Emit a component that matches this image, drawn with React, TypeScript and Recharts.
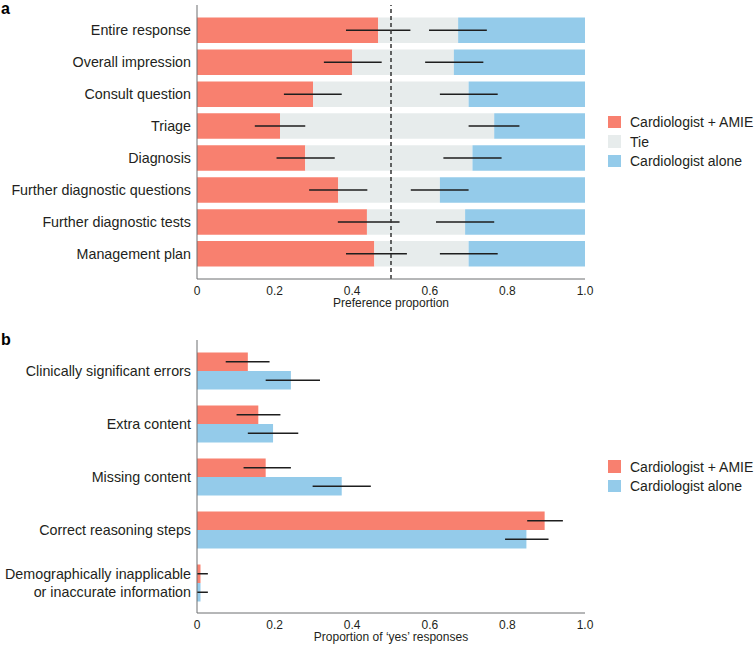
import React from 'react';
import { BarChart, Bar, XAxis, YAxis, ErrorBar, ReferenceLine } from 'recharts';

const FONT = '"Liberation Sans", Arial, sans-serif';
const TEXT = '#231f20';
const AXIS = '#6d6e71';

const COLOR_AMIE = '#F8806F';
const COLOR_TIE = '#E7ECEC';
const COLOR_ALONE = '#94CBEA';

// Panel a: preference between the two responses, per section
const preferenceCategories = [
  'Entire response',
  'Overall impression',
  'Consult question',
  'Triage',
  'Diagnosis',
  'Further diagnostic questions',
  'Further diagnostic tests',
  'Management plan',
];
const amieShare = [0.467, 0.400, 0.299, 0.214, 0.279, 0.364, 0.438, 0.457];
const amieLow = [0.384, 0.327, 0.224, 0.149, 0.205, 0.289, 0.363, 0.384];
const amieHigh = [0.550, 0.476, 0.373, 0.279, 0.355, 0.439, 0.522, 0.541];
const aloneShare = [0.327, 0.338, 0.300, 0.234, 0.290, 0.374, 0.309, 0.300];
const aloneLow = [0.253, 0.262, 0.225, 0.169, 0.215, 0.300, 0.234, 0.225];
const aloneHigh = [0.402, 0.412, 0.374, 0.300, 0.365, 0.449, 0.384, 0.374];

// Panel b: proportion of 'yes' answers per question
const yesCategories = [
  'Clinically significant errors',
  'Extra content',
  'Missing content',
  'Correct reasoning steps',
  'Demographically inapplicable\nor inaccurate information',
];
const amieYes = [0.131, 0.158, 0.177, 0.896, 0.009];
const amieYesLow = [0.074, 0.102, 0.120, 0.851, 0];
const amieYesHigh = [0.187, 0.215, 0.242, 0.943, 0.028];
const aloneYes = [0.242, 0.196, 0.373, 0.849, 0.009];
const aloneYesLow = [0.177, 0.131, 0.298, 0.794, 0];
const aloneYesHigh = [0.317, 0.261, 0.448, 0.906, 0.028];

const xTicks = [0, 0.2, 0.4, 0.6, 0.8, 1];

const preferenceData = preferenceCategories.map((name, i) => ({
  name,
  amie: amieShare[i],
  tie: +(1 - amieShare[i] - aloneShare[i]).toFixed(4),
  alone: aloneShare[i],
  // error bar on the red segment sits at its end
  amieErr: [amieShare[i] - amieLow[i], amieHigh[i] - amieShare[i]],
  // blue interval is drawn at the red+tie boundary, i.e. 1 - alone
  aloneErr: [aloneHigh[i] - aloneShare[i], aloneShare[i] - aloneLow[i]],
}));

const yesData = yesCategories.map((name, i) => ({
  name,
  amie: amieYes[i],
  alone: aloneYes[i],
  amieErr: [amieYes[i] - amieYesLow[i], amieYesHigh[i] - amieYes[i]],
  aloneErr: [aloneYes[i] - aloneYesLow[i], aloneYesHigh[i] - aloneYes[i]],
}));

const formatTick = (v: number) => (v === 0 ? '0' : v.toFixed(1));

const CategoryTick = ({ x, y, payload }: any) => {
  const lines = String(payload.value).split('\n');
  const lh = 17.6;
  return (
    <text x={x} y={y} textAnchor="end" fontSize={14.3} fill={TEXT} fontFamily={FONT}>
      {lines.map((line, i) => (
        <tspan key={i} x={x} dy={i === 0 ? -((lines.length - 1) * lh) / 2 + 5 : lh}>
          {line}
        </tspan>
      ))}
    </text>
  );
};

const LegendBox = ({ items, top }: { items: { label: string; color: string }[]; top: number }) => (
  <div style={{ position: 'absolute', left: 608, top, fontFamily: FONT, fontSize: 14, color: TEXT }}>
    {items.map((it) => (
      <div key={it.label} style={{ display: 'flex', alignItems: 'center', height: 19.4, whiteSpace: 'nowrap' }}>
        <span style={{ display: 'inline-block', width: 12.5, height: 12.5, background: it.color, marginRight: 9.5 }} />
        {it.label}
      </div>
    ))}
  </div>
);

const errProps = { direction: 'x' as const, width: 0, stroke: '#1e1e1e', strokeWidth: 1.5 };

const xAxisCommon = {
  type: 'number' as const,
  domain: [0, 1],
  ticks: xTicks,
  interval: 0,
  tickFormatter: formatTick,
  tickLine: false,
  axisLine: { stroke: AXIS },
  tick: { fontSize: 12, fill: TEXT },
};

const panelLetter = { position: 'absolute' as const, left: 1, fontSize: 16, lineHeight: '18px', fontWeight: 700, color: '#000' };

export default function App() {
  return (
    <div style={{ position: 'absolute', left: 0, top: 0, width: 754, height: 650, background: '#fff', fontFamily: FONT }}>
      <div style={{ ...panelLetter, top: 0 }}>a</div>
      <div style={{ ...panelLetter, top: 331 }}>b</div>

      <div style={{ position: 'absolute', left: 0, top: 0 }}>
        <BarChart
          width={754}
          height={315}
          data={preferenceData}
          layout="vertical"
          margin={{ top: 5, right: 169, bottom: 0, left: 0 }}
          barSize={25.5}
          style={{ fontFamily: FONT }}
        >
          <XAxis
            {...xAxisCommon}
            height={36}
            tickSize={5}
            tickMargin={2}
            label={{ value: 'Preference proportion', position: 'insideBottom', offset: 8, fontSize: 12, fill: TEXT }}
          />
          <YAxis
            type="category"
            dataKey="name"
            width={197}
            interval={0}
            tickLine={false}
            tickSize={6}
            tickMargin={0}
            axisLine={{ stroke: AXIS }}
            tick={<CategoryTick />}
            padding={{ top: 9.5, bottom: 9 }}
          />
          <Bar dataKey="amie" stackId="pref" fill={COLOR_AMIE} isAnimationActive={false}>
            <ErrorBar dataKey="amieErr" {...errProps} />
          </Bar>
          <Bar dataKey="tie" stackId="pref" fill={COLOR_TIE} isAnimationActive={false}>
            <ErrorBar dataKey="aloneErr" {...errProps} />
          </Bar>
          <Bar dataKey="alone" stackId="pref" fill={COLOR_ALONE} isAnimationActive={false} />
          <ReferenceLine x={0.5} stroke="#333" strokeWidth={1.5} strokeDasharray="4 3" />
        </BarChart>
      </div>

      <div style={{ position: 'absolute', left: 0, top: 320 }}>
        <BarChart
          width={754}
          height={330}
          data={yesData}
          layout="vertical"
          margin={{ top: 20, right: 169, bottom: 0, left: 0 }}
          barSize={18.5}
          barGap={0}
          style={{ fontFamily: FONT }}
        >
          <XAxis
            {...xAxisCommon}
            height={37}
            tickSize={5}
            tickMargin={2}
            label={{ value: 'Proportion of \u2018yes\u2019 responses', position: 'insideBottom', offset: 9, fontSize: 12, fill: TEXT }}
          />
          <YAxis
            type="category"
            dataKey="name"
            width={197}
            interval={0}
            tickLine={false}
            tickSize={6}
            tickMargin={0}
            axisLine={{ stroke: AXIS }}
            tick={<CategoryTick />}
            padding={{ top: 4.5, bottom: 3.5 }}
          />
          <Bar dataKey="amie" fill={COLOR_AMIE} isAnimationActive={false}>
            <ErrorBar dataKey="amieErr" {...errProps} />
          </Bar>
          <Bar dataKey="alone" fill={COLOR_ALONE} isAnimationActive={false}>
            <ErrorBar dataKey="aloneErr" {...errProps} />
          </Bar>
        </BarChart>
      </div>

      <LegendBox
        top={112.5}
        items={[
          { label: 'Cardiologist + AMIE', color: COLOR_AMIE },
          { label: 'Tie', color: COLOR_TIE },
          { label: 'Cardiologist alone', color: COLOR_ALONE },
        ]}
      />
      <LegendBox
        top={457}
        items={[
          { label: 'Cardiologist + AMIE', color: COLOR_AMIE },
          { label: 'Cardiologist alone', color: COLOR_ALONE },
        ]}
      />
    </div>
  );
}
